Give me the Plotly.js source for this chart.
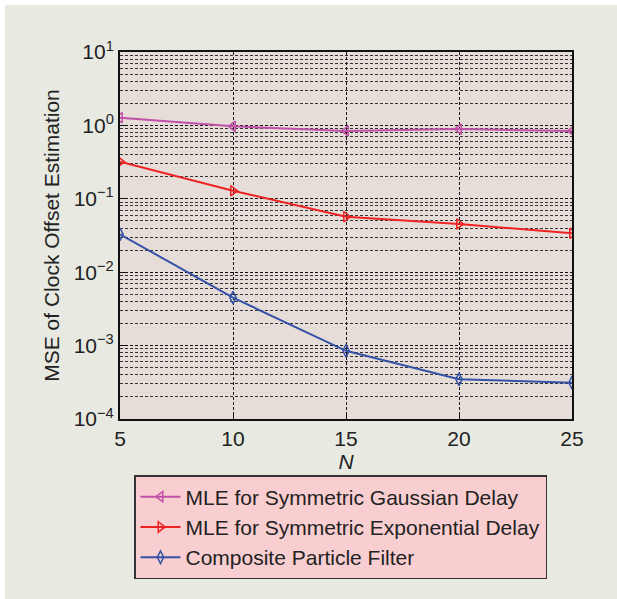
<!DOCTYPE html>
<html>
<head>
<meta charset="utf-8">
<script src="https://cdn.plot.ly/plotly-3.0.1.min.js"></script>
<style>html,body{margin:0;padding:0;background:#fff;}#chart{width:617px;height:599px;}</style>
</head>
<body>
<div id="chart"></div>
<script>
const N = [5, 10, 15, 20, 25];
const mleGaussian = [1.27, 0.97, 0.84, 0.89, 0.84];
const mleExponential = [0.32, 0.129, 0.057, 0.0454, 0.0339];
const compositePF = [0.0328, 0.0045, 0.00085, 0.000347, 0.000312];
const seriesNames = ['MLE for Symmetric Gaussian Delay', 'MLE for Symmetric Exponential Delay', 'Composite Particle Filter'];
const yTickVals = [1e-4, 1e-3, 1e-2, 1e-1, 1, 10];
const yTickText = ['10<sup>−4</sup>', '10<sup>−3</sup>', '10<sup>−2</sup>', '10<sup>−1</sup>', '10<sup>0</sup>', '10<sup>1</sup>'];
const xTickVals = [5, 10, 15, 20, 25];

const L = 120, R = 45, T = 52, B = 180;
const PW = 617 - L - R, PH = 599 - T - B;

const traces = [
  {x: N, y: mleGaussian, name: seriesNames[0], mode: 'lines+markers',
   line: {color: '#c050a8', width: 2}, marker: {symbol: 'triangle-left-open', size: 9, color: '#c050a8', line: {width: 1.5}}},
  {x: N, y: mleExponential, name: seriesNames[1], mode: 'lines+markers',
   line: {color: '#ee2222', width: 2}, marker: {symbol: 'triangle-right-open', size: 9, color: '#ee2222', line: {width: 1.5}}},
  {x: N, y: compositePF, name: seriesNames[2], mode: 'lines+markers',
   line: {color: '#3452a8', width: 2}, marker: {symbol: 'diamond-tall-open', size: 9, color: '#3452a8', line: {width: 1.5}}}
];

const layout = {
  width: 617, height: 599,
  margin: {l: L, r: R, t: T, b: B},
  paper_bgcolor: '#e8eae2',
  plot_bgcolor: '#e7ddd8',
  font: {family: 'Liberation Sans, Arial, sans-serif', color: '#222', size: 21},
  showlegend: true,
  legend: {
    x: (134 - L) / PW, xanchor: 'left',
    y: (419 - 475) / PH, yanchor: 'top',
    bgcolor: '#f9ced0', bordercolor: '#333', borderwidth: 1.5,
    font: {size: 21, color: '#222'},
    itemwidth: 40
  },
  xaxis: {
    range: [5, 25], tickvals: xTickVals, ticktext: xTickVals.map(String),
    showline: true, linecolor: '#111', linewidth: 2, mirror: true,
    ticks: 'inside', ticklen: 5, tickcolor: '#111',
    showgrid: true, gridcolor: '#111', griddash: '3px,2px', gridwidth: 1,
    zeroline: false,
    tickfont: {size: 21},
    title: {text: '<i>N</i>', font: {size: 21}, standoff: 2}
  },
  yaxis: {
    type: 'log', range: [-4, 1],
    tickvals: yTickVals, ticktext: yTickText,
    showline: true, linecolor: '#111', linewidth: 2, mirror: true,
    ticks: 'inside', ticklen: 5, tickcolor: '#111',
    showgrid: true, gridcolor: '#111', griddash: '3px,2px', gridwidth: 1,
    minor: {dtick: 'D1', showgrid: true, gridcolor: '#333', griddash: '3px,2px', gridwidth: 1, ticks: ''},
    zeroline: false,
    tickfont: {size: 21},
    title: {text: 'MSE of Clock Offset Estimation', font: {size: 21}, standoff: 8}
  },
  shapes: [
    {type: 'rect', xref: 'paper', yref: 'paper', x0: -L / PW, x1: 1 + R / PW, y0: 1 + (T - 5) / PH, y1: 1 + T / PH, fillcolor: '#ffffff', line: {width: 0}, layer: 'below'},
    {type: 'rect', xref: 'paper', yref: 'paper', x0: -L / PW, x1: -(L - 5) / PW, y0: -B / PH, y1: 1 + T / PH, fillcolor: '#ffffff', line: {width: 0}, layer: 'below'}
  ]
};

Plotly.newPlot('chart', traces, layout, {displayModeBar: false, staticPlot: true});
</script>
</body>
</html>
